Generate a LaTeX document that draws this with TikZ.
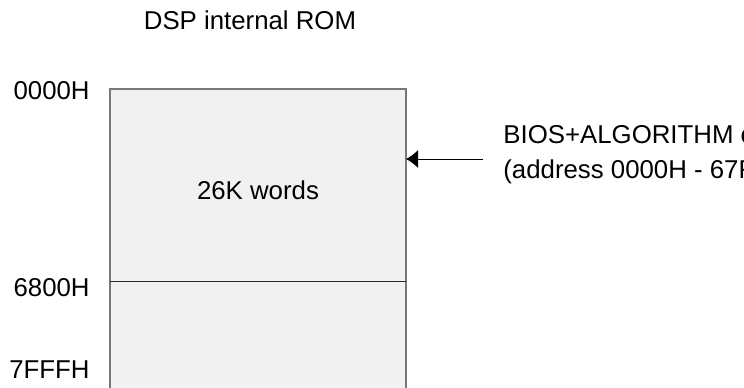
\documentclass[tikz,border=0pt]{standalone}
\usepackage{fontspec}
\setmainfont{Liberation Sans}
\usetikzlibrary{arrows.meta}
\definecolor{romfill}{RGB}{241, 241, 241}
\definecolor{romedge}{RGB}{120, 120, 120}
\definecolor{romdark}{RGB}{40, 40, 40}
\begin{document}
\begin{tikzpicture}[x=0.5pt,y=-0.5pt,
    every node/.style={inner sep=0pt, font=\fontsize{12.9pt}{17.5pt}\selectfont},
    addr/.style={anchor=east},
    romside/.style={draw=romedge, line width=0.6pt},
    romsplit/.style={draw=romdark, line width=0.5pt}]
   	\useasboundingbox (0,0) rectangle (744,387);
   	\clip (0,0) rectangle (744,387);

	%El bloque de ROM (sin borde inferior)
   	\fill[romfill] (110,89) rectangle (406,395);
   	\draw[romside] (110,395) -- (110,89) -- (406,89) -- (406,395);
   	\draw[romsplit] (110,281) -- (406,281);

	%Titulo y contenido
   	\node (title) at (250,20) {DSP internal ROM};
   	\node (words) at (258,190) {26K words};

	%Direcciones a la izquierda
   	\node[addr] (a0000) at (90,91) {0000H};
   	\node[addr] (a6800) at (90,288) {6800H};
   	\node[addr] (a7fff) at (90,370) {7FFFH};

	%Nota a la derecha con su flecha
   	\node[anchor=west, align=left] (bios) at (503,155) {BIOS+ALGORITHM c\\(address 0000H - 67F};
   	\coordinate (tip) at (406,159);
   	\coordinate (tail) at (483,159);
   	\draw[black, line width=0.5pt, -{Latex[length=6pt,width=9pt]}] (tail) -- (tip);
\end{tikzpicture}
\end{document}
